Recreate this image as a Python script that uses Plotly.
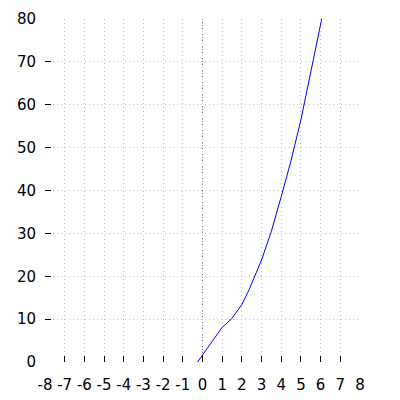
import plotly.graph_objects as go

#---
# data
#---
x_vals = [-0.25, 0, 0.5, 1, 1.13, 1.5, 2, 2.37, 3, 3.5, 4, 4.5, 5, 5.5, 6, 6.1]
y_vals = [0, 1.6, 4.9, 8.1, 8.6, 10.2, 13.4, 16.9, 23.8, 30.5, 38.6, 47.0, 56.5, 67.3, 78.5, 81.0]

x_ticks = list(range(-8, 9))
x_tick_text = [str(v) for v in x_ticks]  # plain hyphen, not unicode minus
y_ticks = list(range(0, 81, 10))

#---
# chart
#---
fig = go.Figure()
fig.add_trace(go.Scatter(
    x=x_vals,
    y=y_vals,
    mode='lines',
    line=dict(color='#0000ff', width=1),
    hoverinfo='skip',
))

axis_style = dict(
    showline=False,
    showgrid=True,
    gridcolor='#c4c4c4',
    griddash='1px,3px',
    gridwidth=1,
    zeroline=False,
    automargin=False,
    ticks='inside',
    ticklen=6,
    tickcolor='black',
    tickwidth=1,
    tickfont=dict(family='DejaVu Sans', size=15, color='black'),
)

fig.update_xaxes(
    range=[-8, 8],
    tickvals=x_ticks,
    ticktext=x_tick_text,
    ticklabelstandoff=12,
    **axis_style,
)
fig.update_yaxes(
    range=[0, 80],
    tickvals=y_ticks,
    ticklabelstandoff=8,
    **axis_style,
)

# dotted reference line at x = 0
fig.add_shape(
    type='line', xref='x', yref='paper',
    x0=0, x1=0, y0=0, y1=1,
    line=dict(color='#808080', width=1, dash='1px,2px'),
    layer='below',
)

# page body adds ~8px offset, so margins are shifted to compensate
fig.update_layout(
    width=400,
    height=400,
    margin=dict(l=37, r=48, t=11, b=46),
    plot_bgcolor='white',
    paper_bgcolor='white',
    showlegend=False,
)

fig.write_html("out.html")
